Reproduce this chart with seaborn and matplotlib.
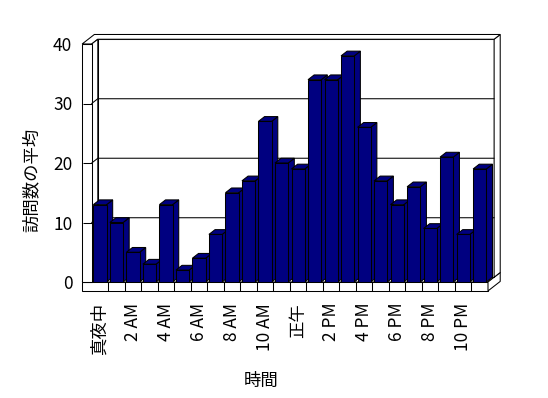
import matplotlib
matplotlib.use("Agg")
import matplotlib.pyplot as plt
import seaborn as sns
import pandas as pd
from matplotlib.patches import Polygon

# data
hours = [f"{h}時" for h in range(24)]
visits = [13, 10, 5, 3, 13, 2, 4, 8, 15, 17, 27, 20,
          19, 34, 34, 38, 26, 17, 13, 16, 9, 21, 8, 19]
tick_labels = ["真夜中", "2 AM", "4 AM", "6 AM", "8 AM", "10 AM",
               "正午", "2 PM", "4 PM", "6 PM", "8 PM", "10 PM"]
y_ticks = [0, 10, 20, 30, 40]

sns.set_theme(style="white")
plt.rcParams["font.family"] = ["Noto Sans CJK JP", "DejaVu Sans"]

df = pd.DataFrame({"hour": hours, "visits": visits})

fig = plt.figure(figsize=(5.48, 3.98), dpi=100)
ax = fig.add_axes([91.7 / 548, (398 - 282) / 398, 396.3 / 548, 238 / 398])

DX, DY = 0.37, 0.8   # one step of depth, in data units
WALL = 0.58          # left wall thickness
FLOOR = 1.5          # floor thickness
LW = 0.75
navy = "#000080"


def face(pts, fc="white", z=2):
    ax.add_patch(Polygon(pts, closed=True, facecolor=fc, edgecolor="black",
                         linewidth=LW, zorder=z, clip_on=False))


sns.barplot(data=df, x="hour", y="visits", order=hours, color=navy,
            saturation=1, width=0.8, edgecolor="black", linewidth=LW, ax=ax)
bars = list(ax.patches)

x0, x1 = -0.5, 23.5
top = y_ticks[-1]

# floor
face([(x0 - WALL, 0), (x1, 0), (x1 + 2 * DX, 2 * DY), (x0 - WALL + 2 * DX, 2 * DY)])
face([(x0 - WALL, -FLOOR), (x1, -FLOOR), (x1, 0), (x0 - WALL, 0)])
face([(x1, -FLOOR), (x1, 0), (x1 + 2 * DX, 2 * DY), (x1 + 2 * DX, -FLOOR + 2 * DY)])
# back wall
face([(x0 + DX, DY), (x1 + DX, DY), (x1 + DX, top + DY), (x0 + DX, top + DY)])
face([(x1 + DX, DY), (x1 + 2 * DX, 2 * DY), (x1 + 2 * DX, top + 2 * DY), (x1 + DX, top + DY)])
face([(x0 - WALL, top), (x0, top), (x0 + DX, top + DY), (x1 + DX, top + DY),
      (x1 + 2 * DX, top + 2 * DY), (x0 - WALL + 2 * DX, top + 2 * DY)])
# left wall
face([(x0, 0), (x0 + DX, DY), (x0 + DX, top + DY), (x0, top)])
face([(x0 - WALL, 0), (x0, 0), (x0, top), (x0 - WALL, top)])

for v in y_ticks[1:-1]:
    ax.plot([x0, x0 + DX, x1 + DX], [v, v + DY, v + DY], color="black",
            linewidth=LW, zorder=2.2, clip_on=False)

# 3d sides and tops of the bars
for i, p in enumerate(bars):
    x, w, h = p.get_x(), p.get_width(), p.get_height()
    face([(x + w, 0), (x + w + DX, DY), (x + w + DX, h + DY), (x + w, h)], navy, 10 + 2 * i)
    face([(x, h), (x + w, h), (x + w + DX, h + DY), (x + DX, h + DY)], navy, 10 + 2 * i)
    p.set_zorder(11 + 2 * i)

ax.set_xlim(x0, x1)
ax.set_ylim(0, top)
ax.patch.set_visible(False)
ax.set_axisbelow(False)
for s in ax.spines.values():
    s.set_visible(False)

ax.set_yticks(y_ticks)
ax.set_xticks(range(0, 24, 2), tick_labels, rotation=90)
ax.set_xticks([i + 0.5 for i in range(23)], minor=True)
ax.tick_params(axis="y", left=True, direction="out", length=6.8, width=LW,
               color="black", pad=7.2, labelsize=12.5, labelcolor="black")
ax.tick_params(axis="x", which="major", bottom=True, length=0, pad=15,
               labelsize=12.5, labelcolor="black")
ax.tick_params(axis="x", which="minor", bottom=True, direction="out",
               length=6.5, width=LW, color="black")

ax.set_xlabel("時間", fontsize=12.5, color="black")
ax.set_ylabel("訪問数の平均", fontsize=12.5, color="black")
ax.xaxis.set_label_coords(0.427, -0.38)
ax.yaxis.set_label_coords(-0.128, 0.43)

fig.savefig("out.png", dpi=100)
